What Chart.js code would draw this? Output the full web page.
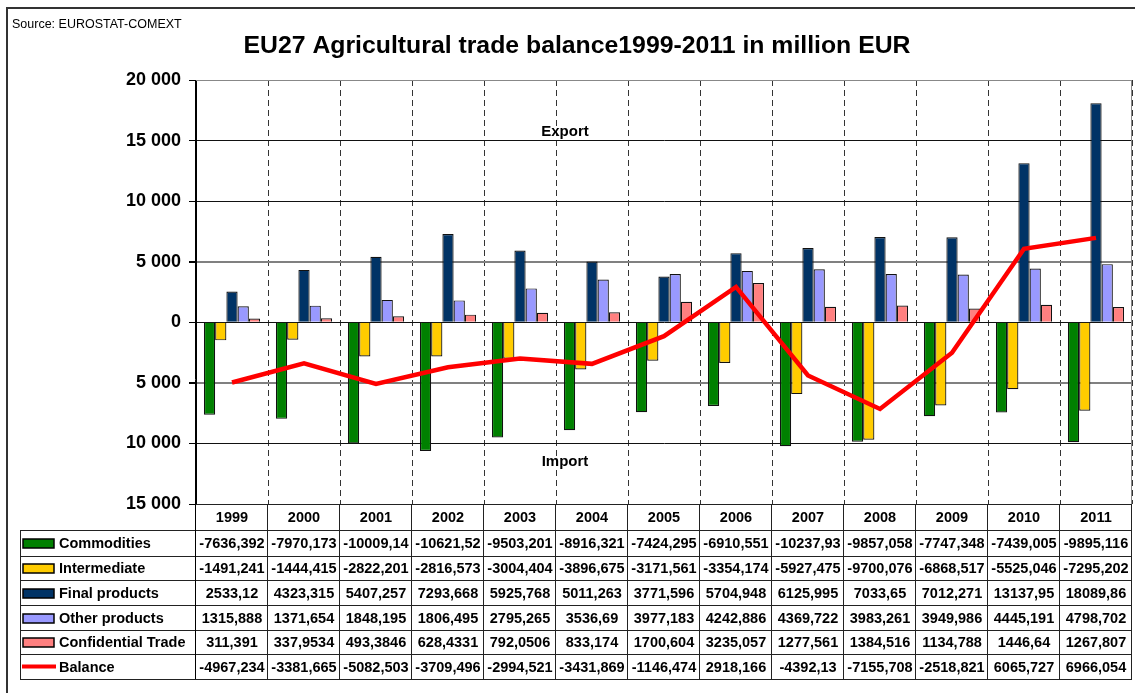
<!DOCTYPE html>
<html>
<head>
<meta charset="utf-8">
<script src="https://cdn.jsdelivr.net/npm/chart.js@4/dist/chart.umd.min.js"></script>
<style>
  html, body { margin: 0; padding: 0; background: #fff; }
  #wrap { width: 1135px; height: 693px; position: relative; }
</style>
</head>
<body>
<div id="wrap"><canvas id="c" width="1135" height="693"></canvas></div>
<script>
const years = ['1999','2000','2001','2002','2003','2004','2005','2006','2007','2008','2009','2010','2011'];
const commodities = [-7636.392, -7970.173, -10009.14, -10621.52, -9503.201, -8916.321, -7424.295, -6910.551, -10237.93, -9857.058, -7747.348, -7439.005, -9895.116];
const intermediate = [-1491.241, -1444.415, -2822.201, -2816.573, -3004.404, -3896.675, -3171.561, -3354.174, -5927.475, -9700.076, -6868.517, -5525.046, -7295.202];
const finalProducts = [2533.12, 4323.315, 5407.257, 7293.668, 5925.768, 5011.263, 3771.596, 5704.948, 6125.995, 7033.65, 7012.271, 13137.95, 18089.86];
const otherProducts = [1315.888, 1371.654, 1848.195, 1806.495, 2795.265, 3536.69, 3977.183, 4242.886, 4369.722, 3983.261, 3949.986, 4445.191, 4798.702];
const confidentialTrade = [311.391, 337.9534, 493.3846, 628.4331, 792.0506, 833.174, 1700.604, 3235.057, 1277.561, 1384.516, 1134.788, 1446.64, 1267.807];
const balance = [-4967.234, -3381.665, -5082.503, -3709.496, -2994.521, -3431.869, -1146.474, 2918.166, -4392.13, -7155.708, -2518.821, 6065.727, 6966.054];

const seriesNames = ['Commodities', 'Intermediate', 'Final products', 'Other products', 'Confidential Trade', 'Balance'];
const seriesColors = ['#008000', '#FFCC00', '#003366', '#9999FF', '#FF8080', '#FF0000'];
const titleText = 'EU27 Agricultural trade balance1999-2011 in million EUR';
const sourceText = 'Source: EUROSTAT-COMEXT';

const FONT = '"Liberation Sans", Arial, Helvetica, sans-serif';

function fmtTick(v) {
  return String(Math.abs(v)).replace(/\B(?=(\d{3})+(?!\d))/g, ' ');
}
function fmtCell(v) {
  return String(v).replace('.', ',');
}

const barSeries = [commodities, intermediate, finalProducts, otherProducts, confidentialTrade];
const datasets = barSeries.map((d, i) => ({
  type: 'bar',
  label: seriesNames[i],
  data: d,
  backgroundColor: seriesColors[i],
  borderColor: '#111',
  borderWidth: 1.2,
  order: 1,
  categoryPercentage: 0.78,
  barPercentage: 1.0
}));
datasets.push({
  type: 'line',
  label: seriesNames[5],
  data: balance,
  borderColor: seriesColors[5],
  borderWidth: 4.5,
  pointRadius: 0,
  tension: 0,
  fill: false,
  order: 0
});

const rowEdges = [504, 530, 556, 580, 605, 630, 654, 679];

const decor = {
  id: 'decor',
  beforeDraw(chart) {
    const ctx = chart.ctx;
    ctx.save();
    ctx.fillStyle = '#fff';
    ctx.fillRect(0, 0, chart.width, chart.height);
    ctx.restore();
  },
  afterDraw(chart) {
    const ctx = chart.ctx;
    const ca = chart.chartArea;
    const xs = chart.scales.x;
    const ys = chart.scales.y;
    const n = years.length;
    const cw = (ca.right - ca.left) / n;
    ctx.save();

    // outer frame (top & left)
    ctx.strokeStyle = '#333';
    ctx.lineWidth = 2;
    ctx.beginPath();
    ctx.moveTo(7, 693); ctx.lineTo(7, 8); ctx.lineTo(1135, 8);
    ctx.stroke();

    // plot borders
    ctx.lineWidth = 1;
    ctx.strokeStyle = '#888';
    ctx.beginPath();
    ctx.moveTo(ca.left, ca.top + 0.5); ctx.lineTo(ca.right, ca.top + 0.5);
    ctx.moveTo(ca.right - 0.5, ca.top); ctx.lineTo(ca.right - 0.5, ca.bottom);
    ctx.stroke();

    // source
    ctx.fillStyle = '#000';
    ctx.font = '12.5px ' + FONT;
    ctx.textAlign = 'left';
    ctx.textBaseline = 'alphabetic';
    ctx.fillText(sourceText, 12, 28);

    // title
    ctx.font = 'bold 24.8px ' + FONT;
    ctx.textAlign = 'center';
    ctx.fillText(titleText, 577, 53);

    // Export / Import
    ctx.font = 'bold 15px ' + FONT;
    ctx.textBaseline = 'middle';
    ctx.fillText('Export', 565, ys.getPixelForValue(15750));
    ctx.fillText('Import', 565, ys.getPixelForValue(-11550));

    // table
    ctx.strokeStyle = '#222';
    ctx.lineWidth = 1;
    ctx.beginPath();
    ctx.moveTo(ca.left, rowEdges[0] + 0.5); ctx.lineTo(ca.right, rowEdges[0] + 0.5);
    for (let r = 1; r < rowEdges.length; r++) {
      ctx.moveTo(20, rowEdges[r] + 0.5); ctx.lineTo(ca.right, rowEdges[r] + 0.5);
    }
    ctx.moveTo(20.5, rowEdges[1]); ctx.lineTo(20.5, rowEdges[rowEdges.length - 1]);
    for (let i = 0; i <= n; i++) {
      const x = Math.round(ca.left + i * cw) - 0.5;
      ctx.moveTo(x, rowEdges[0]); ctx.lineTo(x, rowEdges[rowEdges.length - 1]);
    }
    ctx.stroke();
    ctx.strokeStyle = '#000';
    ctx.beginPath();
    ctx.moveTo(ca.left - 0.5, ca.top); ctx.lineTo(ca.left - 0.5, rowEdges[rowEdges.length - 1]);
    ctx.stroke();

    ctx.font = 'bold 14.5px ' + FONT;
    ctx.textAlign = 'center';
    ctx.textBaseline = 'middle';
    ctx.fillStyle = '#000';
    for (let i = 0; i < n; i++) {
      const cx = xs.getPixelForValue(i);
      ctx.fillText(years[i], cx, (rowEdges[0] + rowEdges[1]) / 2 + 1);
    }
    const allSeries = [commodities, intermediate, finalProducts, otherProducts, confidentialTrade, balance];
    for (let s = 0; s < allSeries.length; s++) {
      const cy = (rowEdges[s + 1] + rowEdges[s + 2]) / 2 + 1;
      if (s < 5) {
        ctx.fillStyle = seriesColors[s];
        ctx.fillRect(23, Math.round(cy - 5), 31, 9);
        ctx.strokeStyle = '#000';
        ctx.lineWidth = 1.5;
        ctx.strokeRect(23, Math.round(cy - 5), 31, 9);
      } else {
        ctx.strokeStyle = seriesColors[s];
        ctx.lineWidth = 4;
        ctx.beginPath();
        ctx.moveTo(22, cy - 1); ctx.lineTo(56, cy - 1);
        ctx.stroke();
      }
      ctx.fillStyle = '#000';
      ctx.textAlign = 'left';
      ctx.fillText(seriesNames[s], 59, cy);
      ctx.textAlign = 'center';
      for (let i = 0; i < n; i++) {
        const cx = xs.getPixelForValue(i);
        ctx.fillText(fmtCell(allSeries[s][i]), cx, cy);
      }
    }
    ctx.restore();
  }
};

new Chart(document.getElementById('c'), {
  data: { labels: years, datasets },
  options: {
    responsive: false,
    animation: false,
    devicePixelRatio: 1,
    layout: { padding: { left: 0, top: 80, right: 3, bottom: 189 } },
    plugins: { legend: { display: false }, tooltip: { enabled: false }, title: { display: false } },
    scales: {
      x: {
        type: 'category',
        offset: true,
        grid: { display: true, offset: true, color: '#333', lineWidth: 1, drawTicks: false },
        border: { display: false, dash: [6, 4] },
        ticks: { display: false },
        afterFit(scale) { scale.height = 0; }
      },
      y: {
        min: -15000,
        max: 20000,
        ticks: {
          stepSize: 5000,
          color: '#000',
          padding: 8,
          font: { family: FONT, size: 18, weight: 'bold' },
          callback: (v) => fmtTick(v)
        },
        grid: {
          drawTicks: true,
          tickLength: 7,
          tickColor: '#000',
          color: (c) => {
            const v = c.tick && c.tick.value;
            if (v === 20000) return '#888';
            if (v === 5000 || v === -5000) return '#808080';
            return '#111';
          },
          lineWidth: (c) => {
            const v = c.tick && c.tick.value;
            if (v === 5000 || v === -5000) return 2;
            return 1;
          }
        },
        border: { display: true, color: '#000', width: 1 },
        afterFit(scale) { scale.width = 196; }
      }
    }
  },
  plugins: [decor]
});
</script>
</body>
</html>
